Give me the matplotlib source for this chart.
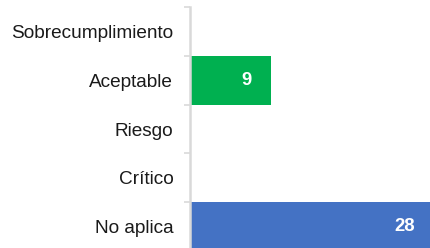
import numpy as np
import matplotlib.pyplot as plt

categories = ["Sobrecumplimiento", "Aceptable", "Riesgo", "Crítico", "No aplica"]
values = [0, 9, 0, 0, 28]
colors = ["#00B050", "#00B050", "#4472C4", "#4472C4", "#4472C4"]

plt.rcParams["font.family"] = ["Liberation Sans", "DejaVu Sans"]

fig = plt.figure(figsize=(4.30, 2.48), dpi=100)
ax = fig.add_axes([190 / 430, -3 / 248, 240 / 430, 244 / 248])

y = np.arange(len(categories))
bars = ax.barh(y, values, height=1.0, color=colors, zorder=2)

xmax = 240 / 9
ax.set_xlim(0, xmax)
ax.set_ylim(len(categories) - 0.5, -0.5)

for yi, v in zip(y, values):
    if v > 0:
        ax.annotate(str(v), xy=(min(v, xmax), yi), xytext=(-18, 0),
                    textcoords="offset points", ha="center", va="center",
                    color="white", fontsize=13.3, fontweight="bold")

ax.set_yticks(y)
ax.set_yticklabels(categories, fontsize=13.7, color="#1a1a1a")
ax.tick_params(axis="y", which="major", length=0, pad=12)
ax.set_yticks(np.arange(-0.5, len(categories)), minor=True)
ax.tick_params(axis="y", which="minor", length=4, width=1.2, color="#d9d9d9")
ax.set_xticks([])

for s in ["top", "right", "bottom"]:
    ax.spines[s].set_visible(False)
ax.spines["left"].set_color("#d9d9d9")
ax.spines["left"].set_linewidth(1.8)
ax.spines["left"].set_zorder(3)

fig.savefig("out.png", dpi=100)
